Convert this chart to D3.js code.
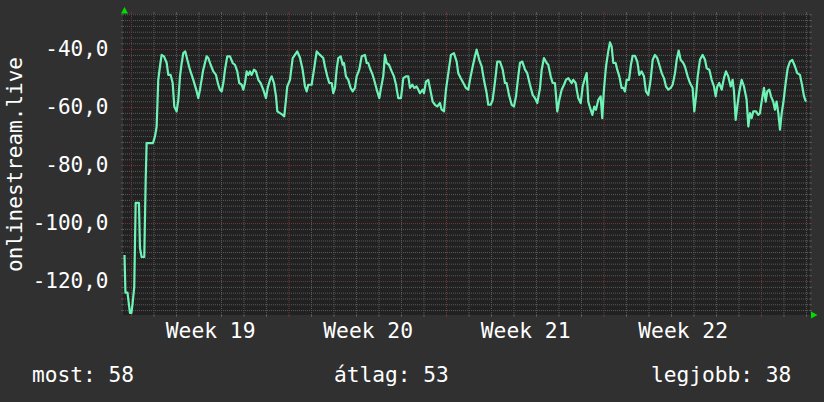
<!DOCTYPE html>
<html lang="hu">
<head>
  <meta charset="UTF-8">
  <title>onlinestream.live</title>
  <script src="https://cdn.jsdelivr.net/npm/d3@7"></script>
  <style>
    body { margin: 0; background: #303030; }
    svg { display: block; font-family: "DejaVu Sans Mono", monospace; }
  </style>
</head>
<body>
  <svg id="chart" width="824" height="402"></svg>
  <script>
    // hours since the start of week 19
    const hours = [
      -6.9, -5.9, -3.7, -1.1, 0.5, 1.8, 3.5, 5.0, 8.5, 9.6, 11.4, 14.2, 15.7, 16.7, 23.5, 25.6, 27.4, 29.1, 30.9, 32.7,
      35.2, 38.1, 39.8, 42.3, 44.5, 46.2, 48.7, 50.5, 52.3, 54.1, 55.8, 57.9, 60.1, 62.9, 66.5, 70.1, 71.8, 73.6, 77.1, 80.7,
      82.5, 85.0, 87.8, 90.7, 93.1, 94.9, 96.7, 98.5, 100.3, 102.7, 105.6, 108.5, 110.9, 113.4, 115.5, 118.1, 119.8, 121.6, 123.4, 125.1,
      126.9, 128.7, 131.2, 133.3, 135.8, 138.3, 141.1, 144.0, 145.8, 148.3, 150.1, 152.5, 154.7, 156.1, 158.9, 161.8, 163.5, 165.3, 166.7, 169.6,
      172.5, 174.9, 177.4, 180.3, 183.1, 185.6, 187.4, 189.1, 192.7, 195.2, 198.1, 201.6, 205.1, 206.9, 209.4, 211.5, 214.1, 215.8, 217.6, 219.4,
      221.1, 223.7, 225.8, 227.2, 229.3, 231.8, 234.3, 236.5, 238.9, 240.7, 243.5, 246.1, 249.6, 251.4, 253.1, 254.9, 257.8, 260.3, 262.7, 264.9,
      266.7, 269.1, 270.9, 272.7, 275.2, 278.1, 280.5, 282.7, 285.1, 288.0, 290.5, 293.3, 295.8, 297.6, 300.1, 302.2, 304.7, 306.5, 308.3, 311.1,
      312.5, 314.7, 317.1, 318.9, 321.8, 324.3, 326.7, 329.6, 331.4, 333.9, 336.0, 338.5, 341.3, 344.5, 347.4, 349.1, 351.7, 354.5, 357.3, 359.8,
      361.6, 364.5, 366.9, 368.7, 371.5, 374.1, 376.5, 379.4, 381.1, 383.7, 385.8, 388.3, 390.7, 393.6, 396.5, 398.9, 400.7, 403.2, 406.1, 408.5,
      410.7, 413.1, 414.9, 417.4, 420.3, 422.7, 425.6, 428.5, 430.9, 433.4, 436.3, 438.1, 440.5, 443.4, 445.1, 447.7, 449.8, 452.3, 454.7, 456.9,
      459.4, 461.9, 464.0, 466.5, 470.1, 471.8, 474.3, 477.1, 479.7, 481.8, 484.3, 486.1, 487.8, 490.3, 492.1, 494.2, 496.0, 498.5, 501.0, 502.7,
      504.5, 506.7, 509.1, 510.9, 512.7, 514.5, 517.0, 518.7, 520.9, 523.4, 525.1, 526.9, 528.7, 531.2, 533.3, 535.1, 537.6, 540.1, 542.2, 544.7,
      547.2, 549.3, 551.8, 554.3, 556.5, 558.9, 561.4, 563.5, 566.1, 568.5, 570.7, 573.1, 575.7, 577.8, 580.3, 582.1, 584.2, 586.3, 589.1, 590.9,
      593.8, 596.3, 599.1, 600.9, 602.7, 604.5, 606.9, 609.8, 612.3, 614.1, 616.9, 619.4, 621.9, 623.7, 625.4, 627.5, 630.1, 632.5, 634.7, 637.1,
      639.7, 641.8, 643.2, 645.0, 646.7, 648.9, 651.4, 653.9, 656.7, 658.5, 660.3, 662.1, 663.8, 666.7, 669.1, 670.9, 672.7, 675.2, 677.0, 678.7,
      680.9, 682.7, 685.1, 686.9, 688.7, 690.5, 692.3, 694.1, 695.8, 698.3, 700.5, 702.9, 705.4, 708.3, 710.7, 713.6, 716.1, 717.9, 720.0
    ];
    const values = [
      -111, -124, -124, -131, -131, -127.5, -122, -93, -93, -108.6, -111.7, -111.7, -85, -72.4, -72.4, -70.1, -66.7, -50.6, -46, -42,
      -42.5, -44.8, -48.9, -48.9, -51.7, -59.8, -61.5, -57.5, -49.4, -44.8, -41.4, -40.8, -43.7, -47.1, -50.6, -54.6, -56.9, -54, -47.1, -42.5,
      -43.1, -45.4, -47.7, -48.9, -52.3, -54, -54.6, -51.7, -47.1, -42.5, -42.5, -44.8, -45.4, -47.7, -51.7, -52.3, -54, -51.7, -47.7, -48.9,
      -47.7, -48.9, -47.1, -47.7, -50.6, -51.7, -54, -56.9, -53.4, -50.6, -49.4, -51.7, -56.3, -61.5, -62.1, -62.7, -63.2, -57.5, -52.9, -50.6,
      -43.1, -42, -40.8, -43, -47.1, -52.9, -54.6, -52.3, -52.3, -47.1, -40.8, -42, -43.1, -46, -49.4, -51.7, -51.7, -55.2, -53.4, -47.1,
      -43.1, -42.5, -45.4, -44.8, -49.4, -50.6, -53.4, -54.6, -53.4, -49.4, -47.1, -42.5, -42, -44.8, -44.8, -46.6, -48.9, -51.7, -54.6, -56.9,
      -53.4, -49.4, -42, -44.8, -45.4, -47.7, -49.4, -52.3, -56.9, -56.9, -50, -49.4, -49.4, -53.4, -52.3, -53.4, -52.9, -54, -55.2, -54,
      -55.2, -51.2, -50.6, -53.4, -58.1, -59.2, -59.8, -58.6, -60.9, -61.5, -54, -48.3, -42, -41.4, -44.3, -48.3, -50, -51.7, -53.4, -54,
      -50.6, -46, -42.5, -40.2, -43.7, -46, -50.6, -55.2, -59.2, -59.2, -57.5, -51.2, -44.3, -44.3, -47.1, -51.7, -51.7, -55.8, -59.2, -59.8,
      -56.3, -49.4, -44.8, -44.3, -47.1, -48.3, -52.3, -55.8, -56.9, -58.6, -53.4, -47.1, -43.1, -44.8, -45.4, -49.4, -51.7, -51.7, -61.5, -57.5,
      -54, -52.3, -50.6, -50, -51.7, -50.6, -51.7, -56.9, -58.6, -52.9, -50, -48.3, -58.1, -60.9, -62.7, -59.8, -60.9, -57.5, -56.3, -63.8,
      -54, -46, -40.8, -37.7, -39.1, -44.8, -44.8, -47.1, -49.4, -53.4, -53.4, -54.6, -50.6, -50.6, -45.4, -42.3, -42.3, -44.3, -48.9, -47.7,
      -49.4, -54.6, -55.8, -50.6, -43.7, -42, -43.1, -45.4, -48.3, -50, -52.9, -54, -53.4, -52.3, -48.3, -43.7, -40.5, -43.7, -44.8, -46,
      -49.4, -51.7, -53.4, -61.5, -56.3, -49.4, -43.7, -42, -43.7, -46.6, -47.1, -50.6, -52.9, -56.3, -52.9, -51.7, -54, -50, -47.7, -49.4,
      -52.9, -50.6, -54.6, -64.4, -59.8, -54.6, -50.6, -52.9, -57.5, -66.7, -62.1, -63.8, -61.5, -61.5, -62.7, -62.1, -58.1, -53.4, -58.1, -54.6,
      -54, -56.3, -58.1, -60.9, -58.1, -62.1, -67.8, -62.1, -58.6, -51.7, -46.6, -44.3, -43.7, -46, -48.3, -48.9, -52.9, -56.3, -58.1
    ];

    const weekLabels = ['Week 19', 'Week 20', 'Week 21', 'Week 22'];
    const yTicks = [-120, -100, -80, -60, -40];
    const yTitle = 'onlinestream.live';
    const legendNames = ['most', 'átlag', 'legjobb'];
    const legendValues = [58, 53, 38];

    const x0 = 123, x1 = 810, y0 = 315, y1 = 14;

    let svg = d3.select('#chart');

    let xScale = d3.scaleLinear().domain([-8.5, 724.3]).range([x0, x1]);
    let yScale = d3.scaleLinear().domain([-131.7, -27.9]).range([y0, y1]);

    // canvas
    svg.append('rect')
      .attr('x', x0).attr('y', y1)
      .attr('width', x1 - x0).attr('height', y0 - y1)
      .attr('fill', '#212121');

    // grid values
    let minorY = d3.range(-130, -27, 2).filter(v => v % 20 !== 0);
    let minorX = d3.range(0, 721, 24).filter(v => v % 168 !== 0);
    let majorX = d3.range(0, 721, 168);

    function ticks(g, color) {
      g.select('.domain').remove();
      g.selectAll('line').attr('stroke', color);
    }

    function grid(vals, color, horizontal) {
      let g = svg.append('g');
      if (horizontal) {
        g.attr('transform', 'translate(' + x0 + ',0)')
          .call(d3.axisRight(yScale).tickValues(vals).tickSize(x1 - x0).tickFormat(''));
        // small solid ticks outside the canvas
        svg.append('g').attr('transform', 'translate(' + x0 + ',0)')
          .call(d3.axisLeft(yScale).tickValues(vals).tickSize(2).tickFormat(''))
          .call(ticks, color);
        svg.append('g').attr('transform', 'translate(' + x1 + ',0)')
          .call(d3.axisRight(yScale).tickValues(vals).tickSize(2).tickFormat(''))
          .call(ticks, color);
      } else {
        g.attr('transform', 'translate(0,' + y1 + ')')
          .call(d3.axisBottom(xScale).tickValues(vals).tickSize(y0 - y1).tickFormat(''));
        svg.append('g').attr('transform', 'translate(0,' + y0 + ')')
          .call(d3.axisBottom(xScale).tickValues(vals).tickSize(2).tickFormat(''))
          .call(ticks, color);
        svg.append('g').attr('transform', 'translate(0,' + y1 + ')')
          .call(d3.axisTop(xScale).tickValues(vals).tickSize(2).tickFormat(''))
          .call(ticks, color);
      }
      g.call(ticks, color);
      g.selectAll('line').attr('stroke-dasharray', '1,1');
    }

    grid(minorY, '#5a5a5a', true);
    grid(minorX, '#5a5a5a', false);
    grid(yTicks, '#703838', true);
    grid(majorX, '#703838', false);

    // data line
    let line = d3.line()
      .x((d, i) => xScale(hours[i]))
      .y(d => yScale(d));

    svg.append('path')
      .datum(values)
      .attr('d', line)
      .attr('fill', 'none')
      .attr('stroke', '#6ef2b6')
      .attr('stroke-width', 2.2)
      .attr('stroke-linejoin', 'round');

    // arrows
    svg.append('path')
      .attr('d', 'M' + (x0 + 1.5) + ',' + (y1 - 7) + 'l-3.5,6.5h7z')
      .attr('fill', '#00dd00');
    svg.append('path')
      .attr('d', 'M' + (x1 + 7.5) + ',' + y0 + 'l-6.5,-3.5v7z')
      .attr('fill', '#00dd00');

    // y labels
    let locale = d3.formatLocale({ decimal: ',', thousands: ' ', grouping: [3], currency: ['', ''], minus: '-' });
    let fmt = locale.format('.1f');

    svg.append('g')
      .selectAll('text')
      .data(yTicks)
      .join('text')
      .attr('x', 108.5)
      .attr('y', d => yScale(d) + 7.4)
      .attr('text-anchor', 'end')
      .attr('fill', '#ffffff')
      .attr('font-size', 21)
      .text(d => fmt(d));

    // week labels
    svg.append('g')
      .selectAll('text')
      .data(weekLabels)
      .join('text')
      .attr('x', (d, i) => xScale(85 + i * 168))
      .attr('y', 338.3)
      .attr('text-anchor', 'middle')
      .attr('fill', '#ffffff')
      .attr('font-size', 21.3)
      .text(d => d);

    // y title
    svg.append('text')
      .attr('transform', 'translate(22,' + (y0 + y1) / 2 + ') rotate(-90)')
      .attr('text-anchor', 'middle')
      .attr('fill', '#ffffff')
      .attr('font-size', 21)
      .text(yTitle);

    // legend
    let legendX = [32, 334, 651];
    svg.append('g')
      .selectAll('text')
      .data(legendNames)
      .join('text')
      .attr('x', (d, i) => legendX[i])
      .attr('y', 382)
      .attr('fill', '#ffffff')
      .attr('font-size', 21.2)
      .text((d, i) => d + ': ' + legendValues[i]);
  </script>
</body>
</html>
